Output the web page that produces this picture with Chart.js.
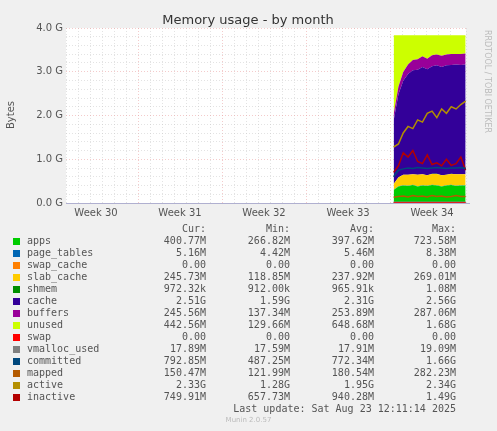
<!DOCTYPE html>
<html>
<head>
<meta charset="utf-8">
<script src="https://cdn.jsdelivr.net/npm/chart.js@4"></script>
<style>
  body { margin:0; background:#f0f0f0; font-family:"DejaVu Sans Mono", monospace; }
  #wrap { position:relative; width:497px; height:431px; }
  #legend { position:absolute; left:0; top:0; width:497px; height:431px; font-size:10px; color:#555; }
  .row { position:absolute; left:0; width:497px; height:12px; line-height:12px; white-space:nowrap; }
  .sq { position:absolute; left:13px; top:3px; width:7px; height:7px; }
  .nm { position:absolute; left:27px; }
  .v { position:absolute; text-align:right; width:80px; }
</style>
</head>
<body>
<div id="wrap">
  <canvas id="c" width="497" height="431"></canvas>
  <div id="legend"></div>
</div>
<script>
// time axis in days since plot start (12 px per day, 7 days per week)
const days = [27.3,27.7,28.1,28.5,28.9,29.3,29.7,30.1,30.5,30.9,31.3,31.7,32.1,32.5,32.9,33.3];
const weekLabels = ['Week 30','Week 31','Week 32','Week 33','Week 34'];
const weekCenters = [2.5, 9.5, 16.5, 23.5, 30.5];

// values in GB
const apps       = [0.30,0.38,0.40,0.39,0.41,0.38,0.40,0.39,0.41,0.40,0.38,0.40,0.41,0.39,0.40,0.40];
const pageTables = [0.005,0.005,0.005,0.005,0.005,0.005,0.005,0.005,0.005,0.005,0.005,0.005,0.005,0.005,0.005,0.005];
const swapCache  = [0,0,0,0,0,0,0,0,0,0,0,0,0,0,0,0];
const slabCache  = [0.13,0.20,0.24,0.25,0.24,0.26,0.25,0.24,0.25,0.26,0.25,0.24,0.25,0.26,0.25,0.25];
const shmem      = [0.001,0.001,0.001,0.001,0.001,0.001,0.001,0.001,0.001,0.001,0.001,0.001,0.001,0.001,0.001,0.001];
const cache      = [1.45,1.90,2.15,2.30,2.38,2.40,2.45,2.42,2.46,2.48,2.47,2.50,2.49,2.51,2.50,2.51];
const buffers    = [0.14,0.17,0.20,0.22,0.23,0.24,0.25,0.24,0.25,0.25,0.26,0.25,0.25,0.24,0.25,0.25];
const unused     = [1.81,1.18,0.84,0.67,0.57,0.55,0.48,0.54,0.46,0.44,0.47,0.44,0.43,0.43,0.43,0.42];
const swap       = [0,0,0,0,0,0,0,0,0,0,0,0,0,0,0,0];
const vmalloc    = [0.018,0.018,0.018,0.018,0.018,0.018,0.018,0.018,0.018,0.018,0.018,0.018,0.018,0.018,0.018,0.018];
const committed  = [0.60,0.75,0.78,0.80,0.79,0.81,0.80,0.79,0.80,0.81,0.80,0.79,0.80,0.80,0.81,0.79];
const mapped     = [0.13,0.15,0.16,0.14,0.17,0.15,0.16,0.14,0.17,0.15,0.16,0.14,0.15,0.17,0.15,0.15];
const active     = [1.28,1.35,1.60,1.75,1.70,1.90,1.85,2.05,2.10,1.95,2.15,2.05,2.20,2.15,2.25,2.33];
const inactive   = [0.70,0.85,1.15,1.05,1.20,0.95,0.90,1.10,0.88,0.92,0.85,1.00,0.86,0.90,1.05,0.75];

const legendRows = [
  ['apps','#00cc00','400.77M','266.82M','397.62M','723.58M'],
  ['page_tables','#0066b3','5.16M','4.42M','5.46M','8.38M'],
  ['swap_cache','#ff8000','0.00','0.00','0.00','0.00'],
  ['slab_cache','#ffcc00','245.73M','118.85M','237.92M','269.01M'],
  ['shmem','#008f00','972.32k','912.00k','965.91k','1.08M'],
  ['cache','#330099','2.51G','1.59G','2.31G','2.56G'],
  ['buffers','#990099','245.56M','137.34M','253.89M','287.06M'],
  ['unused','#ccff00','442.56M','129.66M','648.68M','1.68G'],
  ['swap','#ff0000','0.00','0.00','0.00','0.00'],
  ['vmalloc_used','#808080','17.89M','17.59M','17.91M','19.09M'],
  ['committed','#00487d','792.85M','487.25M','772.34M','1.66G'],
  ['mapped','#b35a00','150.47M','121.99M','180.54M','282.23M'],
  ['active','#b38f00','2.33G','1.28G','1.95G','2.34G'],
  ['inactive','#b30000','749.91M','657.73M','940.28M','1.49G'],
];

const pts = arr => arr.map((y, i) => ({ x: days[i], y }));
const area = (label, color, data, first) => ({
  label, data: pts(data), stack: 'mem', order: 2, backgroundColor: color, borderColor: color,
  borderWidth: 0, fill: first ? 'origin' : '-1', pointRadius: 0, tension: 0
});
const line = (label, color, data) => ({
  label, data: pts(data), stack: label, order: 1, borderColor: color, backgroundColor: color,
  borderWidth: 1.5, fill: false, pointRadius: 0, tension: 0
});

const datasets = [
  area('apps', '#00cc00', apps, true),
  area('page_tables', '#0066b3', pageTables),
  area('swap_cache', '#ff8000', swapCache),
  area('slab_cache', '#ffcc00', slabCache),
  area('shmem', '#008f00', shmem),
  area('cache', '#330099', cache),
  area('buffers', '#990099', buffers),
  area('unused', '#ccff00', unused),
  line('swap', '#ff0000', swap),
  line('vmalloc_used', '#808080', vmalloc),
  line('committed', '#00487d', committed),
  line('mapped', '#b35a00', mapped),
  line('active', '#b38f00', active),
  line('inactive', '#b30000', inactive),
];

const decor = {
  id: 'decor',
  beforeDraw(chart) {
    const { ctx, chartArea: a } = chart;
    ctx.save();
    ctx.fillStyle = '#ffffff';
    ctx.fillRect(a.left, a.top, a.right - a.left, a.bottom - a.top);
    ctx.restore();
  },
  afterDraw(chart) {
    const { ctx, chartArea: a } = chart;
    const xs = chart.scales.x;
    ctx.save();
    ctx.fillStyle = '#333';
    ctx.font = '13px "DejaVu Sans"';
    ctx.textAlign = 'center';
    ctx.fillText('Memory usage - by month', 248, 24);
    ctx.font = '10px "DejaVu Sans"';
    ctx.fillStyle = '#555';
    weekLabels.forEach((w, i) => ctx.fillText(w, xs.getPixelForValue(weekCenters[i]), 216));
    ctx.save();
    ctx.translate(14, 115);
    ctx.rotate(-Math.PI / 2);
    ctx.fillText('Bytes', 0, 0);
    ctx.restore();
    ctx.save();
    ctx.translate(485, 30);
    ctx.rotate(Math.PI / 2);
    ctx.textAlign = 'left';
    ctx.fillStyle = '#bbb';
    ctx.font = '8px "DejaVu Sans"';
    ctx.fillText('RRDTOOL / TOBI OETIKER', 0, 0);
    ctx.restore();
    ctx.strokeStyle = '#b0b0d0';
    ctx.lineWidth = 1;
    ctx.beginPath();
    ctx.moveTo(a.left, a.bottom + 0.5); ctx.lineTo(a.right + 4, a.bottom + 0.5);
    ctx.stroke();
    ctx.restore();
  }
};

const isWhole = v => Math.abs(v - Math.round(v)) < 1e-6;

new Chart(document.getElementById('c'), {
  type: 'line',
  data: { datasets },
  plugins: [decor],
  options: {
    responsive: false,
    animation: false,
    layout: { padding: { top: 28, right: 31, bottom: 0, left: 0 } },
    plugins: { legend: { display: false }, tooltip: { enabled: false } },
    scales: {
      x: {
        type: 'linear', min: 0, max: 33.33,
        ticks: { stepSize: 1, display: false, autoSkip: false },
        grid: {
          color: c => (c.tick.value % 7 === 6) ? 'rgba(235,160,160,0.55)' : 'rgba(200,200,200,0.5)',
          drawTicks: false
        },
        border: { display: false, dash: [1, 2] },
        afterFit: s => { s.height = 228; }
      },
      y: {
        stacked: true, min: 0, max: 4,
        ticks: {
          stepSize: 0.2, autoSkip: false, color: '#555', font: { size: 10, family: 'DejaVu Sans' },
          callback: v => isWhole(v) ? v.toFixed(1) + ' G' : ''
        },
        grid: {
          color: c => isWhole(c.tick.value) ? 'rgba(235,160,160,0.55)' : 'rgba(200,200,200,0.5)',
          drawTicks: false
        },
        border: { display: false, dash: [1, 2] },
        afterFit: s => { s.width = 66; }
      }
    }
  }
});

// legend table
const lg = document.getElementById('legend');
const rightEdges = [206, 290, 374, 456];
let html = '<div class="row" style="top:223px">' +
  ['Cur:','Min:','Avg:','Max:'].map((h, i) => `<span class="v" style="left:${rightEdges[i]-80}px">${h}</span>`).join('') + '</div>';
legendRows.forEach((r, i) => {
  html += `<div class="row" style="top:${235 + i * 12}px"><span class="sq" style="background:${r[1]}"></span>` +
    `<span class="nm">${r[0]}</span>` +
    r.slice(2).map((v, j) => `<span class="v" style="left:${rightEdges[j]-80}px">${v}</span>`).join('') + '</div>';
});
html += '<div class="row" style="top:403px"><span style="position:absolute;right:41px">Last update: Sat Aug 23 12:11:14 2025</span></div>';
html += '<div style="position:absolute;left:0;width:497px;text-align:center;top:416px;font-size:7px;color:#bbb;font-family:DejaVu Sans">Munin 2.0.57</div>';
lg.innerHTML = html;
</script>
</body>
</html>
